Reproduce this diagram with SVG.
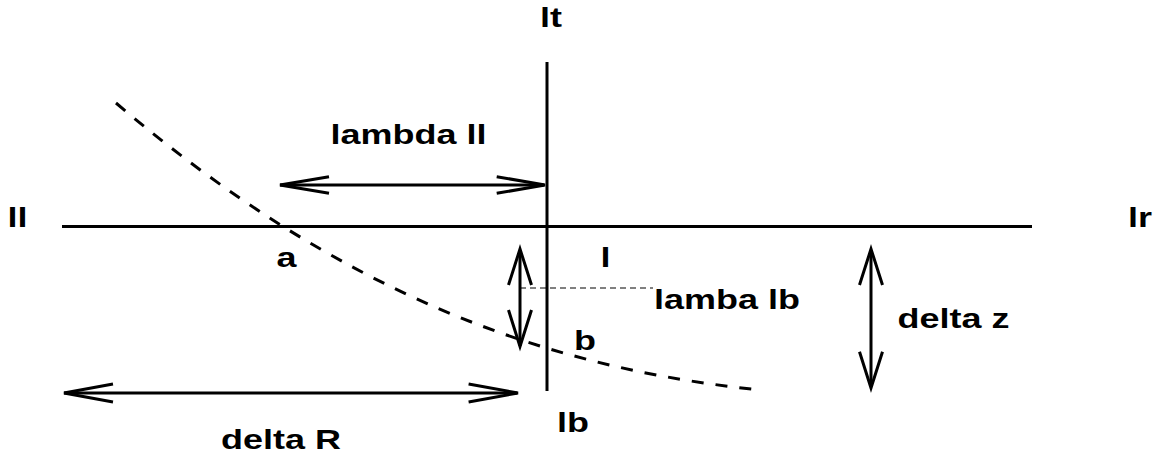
<svg xmlns="http://www.w3.org/2000/svg" width="1163" height="462" viewBox="0 0 1163 462">
<style>
.ln{stroke:#000;stroke-width:3;fill:none}
.hd{stroke:#000;stroke-width:3;fill:none;stroke-linejoin:miter}
.dash{stroke:#000;stroke-width:3;fill:none;stroke-dasharray:12 12}
.thin{stroke:#000;stroke-width:1;fill:none;stroke-dasharray:6 4}
.t{font-family:"Liberation Sans",Arial,sans-serif;font-weight:bold;font-size:27px;fill:#000}
</style>
<rect width="1163" height="462" fill="#fff"/>
<g id="connectors">
<line id="axis-v" class="ln" x1="547" y1="62" x2="547" y2="391"/>
<line id="axis-h" class="ln" x1="62" y1="226.5" x2="1032" y2="226.5"/>
<path id="curve" class="dash" d="M116,103 C336,290 540,368 761,390"/>
<line id="lamba-lb-line" class="thin" x1="520" y1="288" x2="653" y2="288"/>
<g id="arrow-lambda-ll">
<line class="ln" x1="280" y1="185" x2="544" y2="185"/>
<polyline class="hd" points="329,176.7 280,185 329,193.3"/>
<polyline class="hd" points="496.7,176.7 545,185 496.7,193.3"/>
</g>
<g id="arrow-lb">
<line class="ln" x1="520" y1="250" x2="520" y2="346"/>
<polyline class="hd" points="508.5,285 520,249 531.5,285"/>
<polyline class="hd" points="508.5,310 520,346.5 531.5,310"/>
</g>
<g id="arrow-delta-z">
<line class="ln" x1="871" y1="250" x2="871" y2="387"/>
<polyline class="hd" points="859.5,285 871,249 882.5,285"/>
<polyline class="hd" points="859.5,351.7 871,388 882.5,351.7"/>
</g>
<g id="arrow-delta-R">
<line class="ln" x1="64" y1="393" x2="517" y2="393"/>
<polyline class="hd" points="113,384 64,393 113,402"/>
<polyline class="hd" points="468.6,384 518,393 468.6,402"/>
</g>
</g>
<g id="label-lt"><text class="t" transform="translate(540,27) scale(1.333,1)">lt</text></g>
<g id="label-ll"><text class="t" transform="translate(7.6,226.7) scale(1.333,1)">ll</text></g>
<g id="label-lr"><text class="t" transform="translate(1128,226.7) scale(1.333,1)">lr</text></g>
<g id="label-lambda-ll"><text class="t" transform="translate(330.6,144) scale(1.333,1)">lambda ll</text></g>
<g id="label-a"><text class="t" transform="translate(276.5,267) scale(1.333,1)">a</text></g>
<g id="label-l"><text class="t" transform="translate(600.5,267) scale(1.333,1)">l</text></g>
<g id="label-lamba-lb"><text class="t" transform="translate(654,309) scale(1.333,1)">lamba lb</text></g>
<g id="label-b"><text class="t" transform="translate(574,350) scale(1.333,1)">b</text></g>
<g id="label-delta-z"><text class="t" transform="translate(897.5,328) scale(1.333,1)">delta z</text></g>
<g id="label-lb"><text class="t" transform="translate(557,432) scale(1.333,1)">lb</text></g>
<g id="label-delta-R"><text class="t" transform="translate(221,449) scale(1.333,1)">delta R</text></g>
</svg>
